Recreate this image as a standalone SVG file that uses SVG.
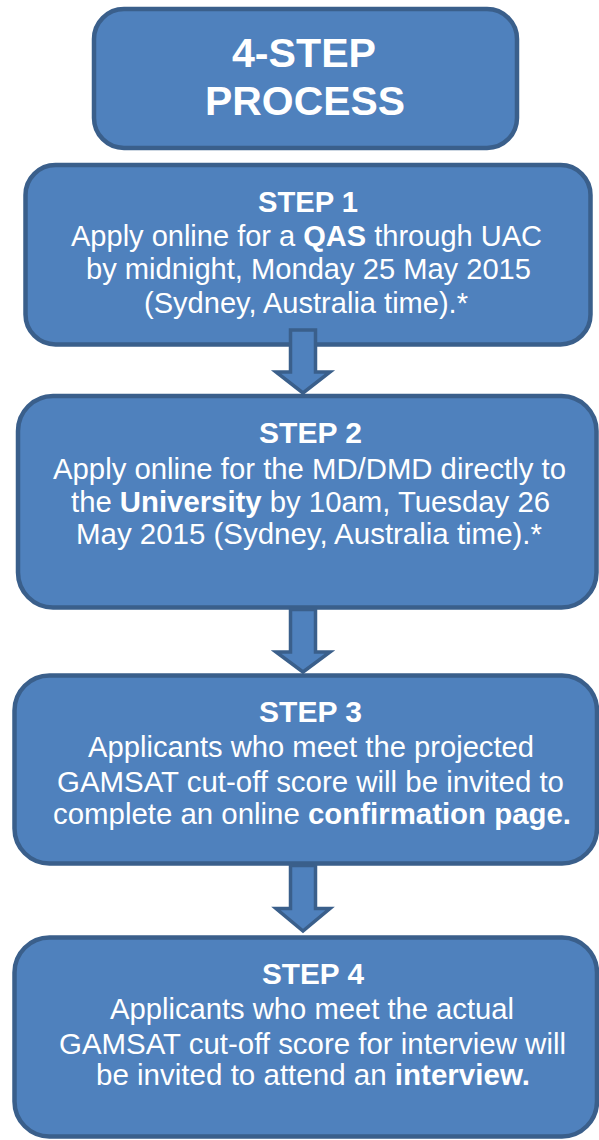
<svg xmlns="http://www.w3.org/2000/svg" width="599" height="1140" viewBox="0 0 599 1140">
<style>
.box{fill:#4F81BD;stroke:#3A5F8B;stroke-width:4.5}
.arr{fill:#4F81BD;stroke:#3A5F8B;stroke-width:3.5;stroke-linejoin:miter}
text{font-family:"Liberation Sans",Arial,sans-serif;fill:#FFFFFF;font-size:29px}
.b{font-weight:bold}
.t{font-weight:bold;font-size:41px}
</style>
<rect width="599" height="1140" fill="#FFFFFF"/>
<g id="title">
<rect class="box" x="94" y="9" width="423" height="139" rx="30" ry="30"/>
<text class="t" x="232" y="67" textLength="144" lengthAdjust="spacingAndGlyphs">4-STEP</text>
<text class="t" x="205" y="115" textLength="200" lengthAdjust="spacingAndGlyphs">PROCESS</text>
</g>
<g id="step1">
<rect class="box" x="25.5" y="165" width="565" height="179.5" rx="30" ry="30"/>
<text class="b" x="258" y="212" textLength="100" lengthAdjust="spacingAndGlyphs">STEP 1</text>
<text x="71" y="246" textLength="471" lengthAdjust="spacingAndGlyphs">Apply online for a <tspan class="b">QAS</tspan> through UAC</text>
<text x="86" y="279" textLength="445" lengthAdjust="spacingAndGlyphs">by midnight, Monday 25 May 2015</text>
<text x="144" y="313" textLength="324" lengthAdjust="spacingAndGlyphs">(Sydney, Australia time).*</text>
</g>
<g id="step2">
<rect class="box" x="18" y="396" width="578.5" height="211.5" rx="35" ry="35"/>
<text class="b" x="259" y="443" textLength="103" lengthAdjust="spacingAndGlyphs">STEP 2</text>
<text x="53" y="479" textLength="513" lengthAdjust="spacingAndGlyphs">Apply online for the MD/DMD directly to</text>
<text x="71" y="512" textLength="479" lengthAdjust="spacingAndGlyphs">the <tspan class="b">University</tspan> by 10am, Tuesday 26</text>
<text x="76" y="544" textLength="466" lengthAdjust="spacingAndGlyphs">May 2015 (Sydney, Australia time).*</text>
</g>
<g id="step3">
<rect class="box" x="14.5" y="675.5" width="582.5" height="188" rx="35" ry="35"/>
<text class="b" x="259" y="722" textLength="103" lengthAdjust="spacingAndGlyphs">STEP 3</text>
<text x="88" y="757" textLength="446" lengthAdjust="spacingAndGlyphs">Applicants who meet the projected</text>
<text x="57" y="792" textLength="507" lengthAdjust="spacingAndGlyphs">GAMSAT cut-off score will be invited to</text>
<text x="53" y="824" textLength="518" lengthAdjust="spacingAndGlyphs">complete an online <tspan class="b">confirmation page.</tspan></text>
</g>
<g id="step4">
<rect class="box" x="14.5" y="937.5" width="582.5" height="199" rx="35" ry="35"/>
<text class="b" x="262" y="984" textLength="102" lengthAdjust="spacingAndGlyphs">STEP 4</text>
<text x="110" y="1019" textLength="404" lengthAdjust="spacingAndGlyphs">Applicants who meet the actual</text>
<text x="59" y="1054" textLength="507" lengthAdjust="spacingAndGlyphs">GAMSAT cut-off score for interview will</text>
<text x="96" y="1085" textLength="434" lengthAdjust="spacingAndGlyphs">be invited to attend an <tspan class="b">interview.</tspan></text>
</g>
<g id="connectors">
<polygon class="arr" points="290.5,330 315.5,330 315.5,372 330,372 303,393 276,372 290.5,372"/>
<polygon class="arr" points="290.5,609.5 315.5,609.5 315.5,652 330,652 303,672 276,652 290.5,652"/>
<polygon class="arr" points="290.5,865.5 315.5,865.5 315.5,908.5 330,908.5 303,931 276,908.5 290.5,908.5"/>
</g>
</svg>
